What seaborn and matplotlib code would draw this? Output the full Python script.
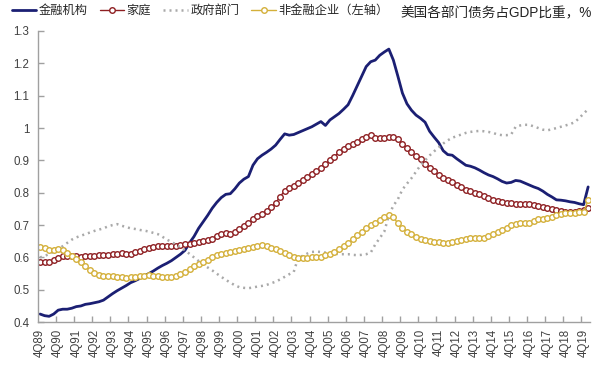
import numpy as np
import pandas as pd
import matplotlib
matplotlib.use("Agg")
import matplotlib.pyplot as plt
import seaborn as sns
from matplotlib.ticker import FixedLocator, FixedFormatter

# ---------------- data (4Q89 ... 1Q20, quarterly) ----------------
financial = [
    0.425,
    0.420, 0.418, 0.425, 0.437,
    0.440, 0.440, 0.443, 0.448,
    0.450, 0.455, 0.457, 0.460,
    0.463, 0.468, 0.478, 0.488,
    0.497, 0.505, 0.513, 0.522,
    0.528, 0.535, 0.543, 0.550,
    0.558, 0.567, 0.575, 0.582,
    0.590, 0.600, 0.610, 0.622,
    0.645, 0.665, 0.690, 0.710,
    0.730, 0.752, 0.770, 0.785,
    0.795, 0.797, 0.812, 0.830,
    0.842, 0.850, 0.885, 0.905,
    0.916, 0.925, 0.935, 0.947,
    0.965, 0.982, 0.978, 0.980,
    0.986, 0.992, 0.998, 1.004,
    1.012, 1.020, 1.008, 1.025,
    1.035, 1.045, 1.058, 1.072,
    1.100, 1.130, 1.160, 1.190,
    1.205, 1.210, 1.225, 1.235,
    1.244, 1.210, 1.160, 1.108,
    1.075, 1.055, 1.040, 1.030,
    1.018, 0.990, 0.972, 0.955,
    0.930, 0.918, 0.916, 0.905,
    0.895, 0.885, 0.882, 0.877,
    0.870, 0.862, 0.855, 0.850,
    0.843, 0.835, 0.830, 0.832,
    0.838, 0.836, 0.830, 0.824,
    0.818, 0.813, 0.805, 0.795,
    0.787, 0.778, 0.777, 0.775,
    0.772, 0.770, 0.766, 0.763,
    0.818,
]

household = [
    0.585,
    0.585, 0.587, 0.592, 0.598,
    0.603, 0.604, 0.603, 0.603,
    0.602, 0.603, 0.604, 0.604,
    0.606, 0.607, 0.609, 0.610,
    0.612, 0.613, 0.611, 0.612,
    0.616, 0.620, 0.625, 0.630,
    0.633, 0.634, 0.634, 0.635,
    0.636, 0.635, 0.637, 0.640,
    0.642, 0.644, 0.647, 0.650,
    0.654, 0.658, 0.665, 0.672,
    0.676, 0.672, 0.680, 0.688,
    0.697, 0.706, 0.718, 0.728,
    0.735, 0.745, 0.756, 0.768,
    0.788, 0.806, 0.814, 0.822,
    0.831, 0.840, 0.849, 0.858,
    0.868, 0.878, 0.889, 0.900,
    0.912, 0.925, 0.934, 0.943,
    0.951, 0.958, 0.965, 0.972,
    0.978, 0.970, 0.970, 0.969,
    0.972, 0.972, 0.965, 0.952,
    0.938, 0.925, 0.915, 0.905,
    0.890, 0.877, 0.866, 0.855,
    0.847, 0.840, 0.832, 0.825,
    0.818, 0.810, 0.805, 0.800,
    0.795, 0.790, 0.784, 0.778,
    0.774, 0.770, 0.769, 0.768,
    0.766, 0.765, 0.765, 0.764,
    0.762, 0.759, 0.756, 0.752,
    0.749, 0.746, 0.744, 0.742,
    0.741, 0.740, 0.744, 0.748,
    0.752,
]

government = [
    0.600,
    0.605, 0.610, 0.618, 0.625,
    0.635, 0.645, 0.655, 0.662,
    0.667, 0.672, 0.677, 0.682,
    0.686, 0.690, 0.696, 0.700,
    0.703, 0.698, 0.694, 0.690,
    0.688, 0.685, 0.683, 0.680,
    0.676, 0.672, 0.664, 0.655,
    0.648, 0.640, 0.631, 0.622,
    0.611, 0.600, 0.589, 0.578,
    0.569, 0.560, 0.550, 0.540,
    0.531, 0.522, 0.514, 0.508,
    0.506, 0.505, 0.507, 0.510,
    0.512, 0.515, 0.520, 0.525,
    0.532, 0.540, 0.548, 0.555,
    0.600, 0.605, 0.612, 0.617,
    0.618, 0.617, 0.615, 0.613,
    0.612, 0.610, 0.610, 0.610,
    0.608, 0.607, 0.608, 0.610,
    0.615, 0.640, 0.660, 0.680,
    0.730, 0.760, 0.780, 0.810,
    0.828, 0.845, 0.865, 0.885,
    0.900, 0.915, 0.928, 0.940,
    0.952, 0.962, 0.970, 0.975,
    0.980, 0.985, 0.988, 0.990,
    0.991, 0.990, 0.988, 0.985,
    0.980, 0.978, 0.978, 0.980,
    1.004, 1.008, 1.010, 1.010,
    1.005, 1.000, 0.995, 0.993,
    0.996, 1.000, 1.004, 1.008,
    1.012, 1.018, 1.030, 1.045,
    1.058,
]

nonfinancial = [
    0.632,
    0.628, 0.624, 0.622, 0.626,
    0.622, 0.615, 0.605, 0.595,
    0.585, 0.572, 0.562, 0.552,
    0.546, 0.544, 0.543, 0.542,
    0.540, 0.538, 0.537, 0.538,
    0.540, 0.542, 0.544, 0.545,
    0.544, 0.543, 0.541, 0.540,
    0.540, 0.542, 0.548, 0.556,
    0.564, 0.572, 0.579, 0.585,
    0.593, 0.600, 0.606, 0.612,
    0.615, 0.618, 0.620, 0.623,
    0.625, 0.628, 0.632, 0.636,
    0.637, 0.635, 0.630, 0.625,
    0.620, 0.615, 0.607, 0.600,
    0.598, 0.598, 0.599, 0.600,
    0.601, 0.602, 0.606, 0.610,
    0.617, 0.625, 0.635, 0.645,
    0.656, 0.668, 0.679, 0.690,
    0.699, 0.708, 0.716, 0.724,
    0.730, 0.725, 0.705, 0.690,
    0.680, 0.672, 0.664, 0.657,
    0.653, 0.650, 0.649, 0.648,
    0.646, 0.645, 0.648, 0.652,
    0.654, 0.657, 0.659, 0.660,
    0.660, 0.660, 0.666, 0.672,
    0.678, 0.685, 0.692, 0.700,
    0.703, 0.706, 0.707, 0.708,
    0.712, 0.718, 0.720, 0.723,
    0.726, 0.730, 0.734, 0.737,
    0.738, 0.738, 0.739, 0.740,
    0.777,
]

x_labels = ['4Q89', '4Q90', '4Q91', '4Q92', '4Q93', '4Q94', '4Q95', '4Q96',
            '4Q97', '4Q98', '4Q99', '4Q00', '4Q01', '4Q02', '4Q03', '4Q04',
            '4Q05', '4Q06', '4Q07', '4Q08', '4Q09', '4Q10', '4Q11', '4Q12',
            '4Q13', '4Q14', '4Q15', '4Q16', '4Q17', '4Q18', '4Q19']
y_ticks = [0.4, 0.5, 0.6, 0.7, 0.8, 0.9, 1.0, 1.1, 1.2, 1.3]
y_labels = ['0.4', '0.5', '0.6', '0.7', '0.8', '0.9', '1', '1.1', '1.2', '1.3']

series_names = ['金融机构', '家庭', '政府部门', '非金融企业（左轴）']
title_text = '美国各部门债务占GDP比重，%'

# ---------------- style ----------------
sns.set_theme(style='white')
plt.rcParams['font.family'] = ['Liberation Sans', 'Noto Sans CJK SC', 'DejaVu Sans']
plt.rcParams['axes.unicode_minus'] = False

c_fin = '#1B1F73'
c_hh = '#8E1F22'
c_gov = '#A9A9A9'
c_nfc = '#D4B03A'

fig = plt.figure(figsize=(6.0, 3.69), dpi=100)
ax = fig.add_axes([0.063, 0.127, 0.921, 0.789])

idx = np.arange(len(financial))
df = pd.DataFrame({'q': idx, 'fin': financial, 'hh': household,
                   'gov': government, 'nfc': nonfinancial})

sns.lineplot(data=df, x='q', y='fin', ax=ax, color=c_fin, lw=2.0,
             label=series_names[0])
sns.lineplot(data=df, x='q', y='hh', ax=ax, color=c_hh, lw=1.0,
             marker='o', markersize=4.0, markerfacecolor='white',
             markeredgecolor=c_hh, markeredgewidth=1.0,
             label=series_names[1])
sns.lineplot(data=df, x='q', y='gov', ax=ax, color=c_gov, lw=1.8,
             linestyle=(0, (0.8, 1.6)), label=series_names[2])
sns.lineplot(data=df, x='q', y='nfc', ax=ax, color=c_nfc, lw=1.0,
             marker='o', markersize=4.0, markerfacecolor='white',
             markeredgecolor=c_nfc, markeredgewidth=1.0,
             label=series_names[3])

ax.set_xlim(-0.5, len(financial) - 0.5)
ax.set_ylim(0.4, 1.3)
ax.set_xlabel('')
ax.set_ylabel('')

# axes style
for s in ['top', 'right']:
    ax.spines[s].set_visible(False)
for s in ['left', 'bottom']:
    ax.spines[s].set_color('#A0A0A0')
    ax.spines[s].set_linewidth(1.0)

ax.yaxis.set_major_locator(FixedLocator(y_ticks))
ax.yaxis.set_major_formatter(FixedFormatter(y_labels))
ax.tick_params(axis='y', direction='in', length=4, width=1, color='#A0A0A0',
               labelsize=8.3, labelcolor='#404040', pad=6, left=True)

label_pos = [i * 4 for i in range(len(x_labels))]
ax.xaxis.set_major_locator(FixedLocator(label_pos))
ax.xaxis.set_major_formatter(FixedFormatter(x_labels))
ax.xaxis.set_minor_locator(FixedLocator([p + 3.5 for p in label_pos]))
ax.tick_params(axis='x', which='major', length=0, labelsize=8.3,
               labelcolor='#404040', rotation=90, pad=5)
ax.tick_params(axis='x', which='minor', direction='in', length=4, width=1,
               color='#A0A0A0', bottom=True)
ax.grid(False)

# legend across the top
handles, labels = ax.get_legend_handles_labels()
ax.get_legend().remove()
fig.legend(handles, labels, loc='upper left', bbox_to_anchor=(0.005, 1.01),
           ncol=4, frameon=False, fontsize=8.8, handlelength=2.0,
           handletextpad=0.2, columnspacing=1.0, borderaxespad=0.3)
fig.text(0.987, 0.963, title_text, ha='right', va='center', fontsize=9.8,
         color='#222222')

fig.savefig('out.png', dpi=100)
